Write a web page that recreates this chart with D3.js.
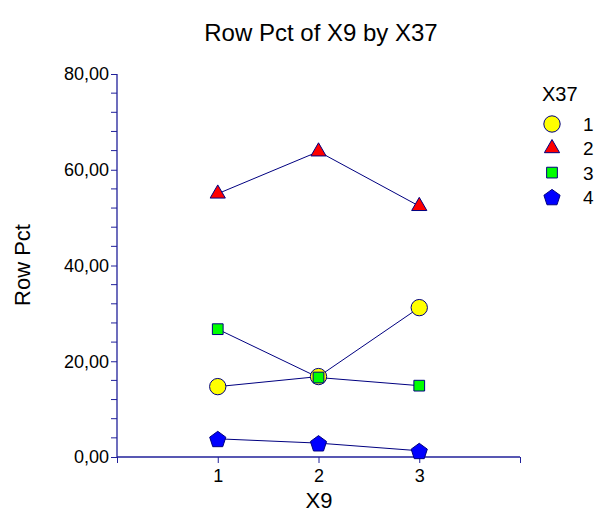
<!DOCTYPE html>
<html>
<head>
<meta charset="utf-8">
<script src="https://cdn.jsdelivr.net/npm/d3@7"></script>
<style>
  body { margin: 0; background: #fff; }
  svg text { font-family: "Liberation Sans", Arial, sans-serif; fill: #000; }
</style>
</head>
<body>
<svg id="chart" width="597" height="514"></svg>
<script>
// data
var categories = [1, 2, 3];
var seriesNames = ["1", "2", "3", "4"];
var rowPct1 = [14.7, 16.8, 31.2];
var rowPct2 = [55.0, 63.8, 52.4];
var rowPct3 = [26.7, 16.6, 14.9];
var rowPct4 = [3.8, 2.9, 1.3];
var yTicks = [0, 20, 40, 60, 80];

var series = [
  { name: seriesNames[0], values: rowPct1, shape: "circle",   fill: "#ffff00" },
  { name: seriesNames[1], values: rowPct2, shape: "triangle", fill: "#ff0000" },
  { name: seriesNames[2], values: rowPct3, shape: "square",   fill: "#00ff00" },
  { name: seriesNames[3], values: rowPct4, shape: "pentagon", fill: "#0000ff" }
];

var navy = "#000080";
var axisCol = "#20209a";
var svg = d3.select("#chart");

var x = d3.scaleLinear().domain([0, 4]).range([117, 520]);
var y = d3.scaleLinear().domain([0, 80]).range([457, 74]);

var fmt = function(d) { return d3.format(".2f")(d).replace(".", ","); };

function shapePath(shape) {
  var sym = {
    circle: d3.symbol().type(d3.symbolCircle).size(210),
    triangle: d3.symbol().type(d3.symbolTriangle).size(100),
    square: d3.symbol().type(d3.symbolSquare).size(115)
  };
  if (shape == "pentagon") {
    var r = 8.5, pts = [];
    for (var i = 0; i < 5; i++) {
      var a = -Math.PI / 2 + i * 2 * Math.PI / 5;
      pts.push([r * Math.cos(a), r * Math.sin(a) + 1]);
    }
    return "M" + pts.join("L") + "Z";
  }
  return sym[shape]();
}

// title
svg.append("text").attr("x", 321).attr("y", 41)
  .attr("text-anchor", "middle").style("font-size", "24px")
  .text("Row Pct of X9 by X37");

// y axis
var yAxis = d3.axisLeft(y).tickValues(yTicks).tickFormat(fmt).tickSize(6).tickPadding(2);
var gy = svg.append("g").attr("transform", "translate(117,0)").call(yAxis);
gy.select(".domain").attr("d", "M0," + y(0) + "V" + y(80)).attr("stroke", axisCol).attr("stroke-width", 1.3);
gy.selectAll(".tick line").attr("stroke", axisCol);
gy.selectAll(".tick text").style("font-size", "18px").attr("fill", "#000");

var minor = d3.range(0, 80, 4).filter(function(d) { return d % 20 != 0; });
svg.append("g").selectAll("line").data(minor).enter().append("line")
  .attr("x1", 111).attr("x2", 117)
  .attr("y1", function(d) { return y(d); }).attr("y2", function(d) { return y(d); })
  .attr("stroke", axisCol);

// x axis
var xAxis = d3.axisBottom(x).tickValues([0].concat(categories, [4])).tickSize(6).tickPadding(6)
  .tickFormat(function(d) { return categories.indexOf(d) >= 0 ? d : ""; });
var gx = svg.append("g").attr("transform", "translate(0," + y(0) + ")").call(xAxis);
gx.select(".domain").attr("d", "M" + x(0) + ",0H" + x(4)).attr("stroke", axisCol).attr("stroke-width", 1.3);
gx.selectAll(".tick line").attr("stroke", axisCol);
gx.selectAll(".tick text").style("font-size", "18px").attr("fill", "#000");

// axis labels
svg.append("text").attr("x", 319).attr("y", 508)
  .attr("text-anchor", "middle").style("font-size", "22px").text("X9");
svg.append("text").attr("transform", "translate(30,265) rotate(-90)")
  .attr("text-anchor", "middle").style("font-size", "22px").text("Row Pct");

// lines and markers
var line = d3.line()
  .x(function(d, i) { return x(categories[i]); })
  .y(function(d) { return y(d); });

series.forEach(function(s) {
  svg.append("path").attr("d", line(s.values))
    .attr("fill", "none").attr("stroke", navy).attr("stroke-width", 1);
});

series.forEach(function(s) {
  svg.append("g").selectAll("path").data(s.values).enter().append("path")
    .attr("d", shapePath(s.shape))
    .attr("transform", function(d, i) { return "translate(" + x(categories[i]) + "," + y(d) + ")"; })
    .attr("fill", s.fill).attr("stroke", navy).attr("stroke-width", 1);
});

// legend
var legend = svg.append("g");
legend.append("text").attr("x", 542).attr("y", 101).style("font-size", "20px").text("X37");
var items = legend.selectAll("g.item").data(series).enter().append("g")
  .attr("transform", function(d, i) { return "translate(552," + (124 + i * 24.3) + ")"; });
items.append("path").attr("d", function(d) { return shapePath(d.shape); })
  .attr("fill", function(d) { return d.fill; }).attr("stroke", navy);
items.append("text").attr("x", 31).attr("y", 7).style("font-size", "19px")
  .text(function(d) { return d.name; });
</script>
</body>
</html>
